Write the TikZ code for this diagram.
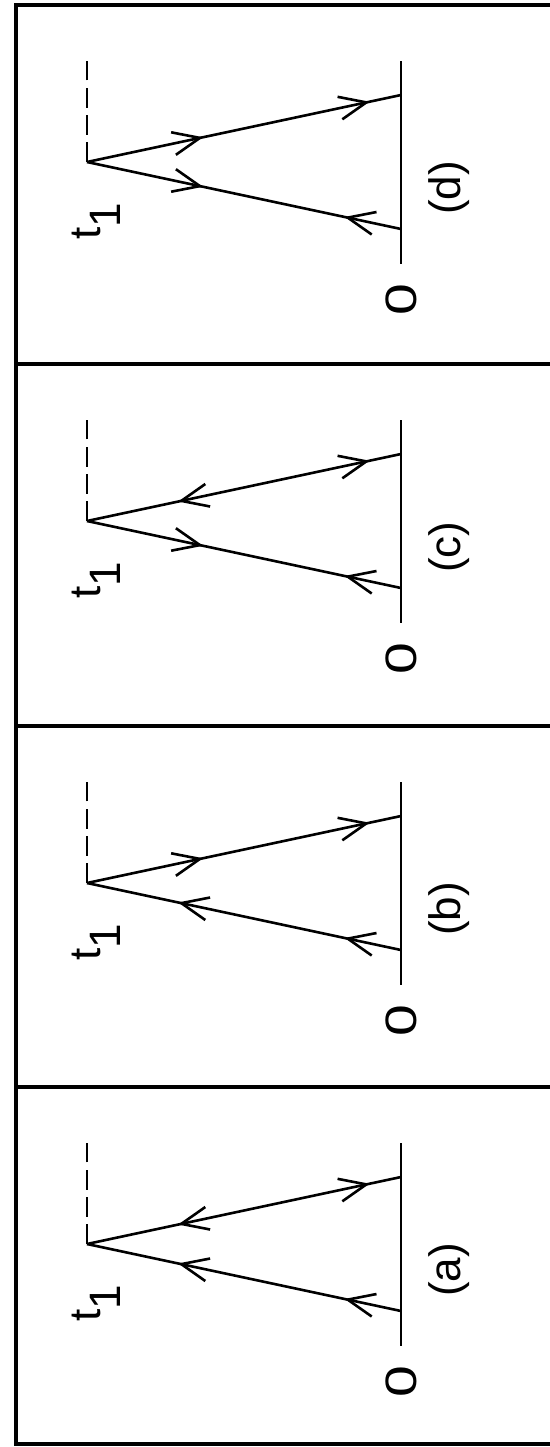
\documentclass[tikz,border=0pt]{standalone}
\usepackage{fontspec}
\setmainfont{Liberation Sans}
\usetikzlibrary{arrows.meta, decorations.markings}

\begin{document}
\begin{tikzpicture}[
  x=0.5pt, y=-0.5pt,
  >={Straight Barb[length=13.5pt, width=11.5pt]},
  frame/.style={line width=1.6pt},
  leg/.style={line width=1.3pt},
  tline/.style={line width=1.3pt},
  tail/.style={line width=1.3pt, dash pattern=on 10pt off 3.6pt},
  lab/.style={font=\fontsize{22}{26}\selectfont, inner sep=0pt, rotate=90},
  fw/.style={postaction={decorate, decoration={markings, mark=at position #1 with {\arrow{>}}}}},
  bk/.style={postaction={decorate, decoration={markings, mark=at position #1 with {\arrowreversed{>}}}}}
]
\useasboundingbox (0,0) rectangle (550,1447);

% outer frame and dividers
\draw[frame] (550,5) -- (16,5) -- (16,1444) -- (550,1444);
\draw[frame] (16,364) -- (550,364);
\draw[frame] (16,726) -- (550,726);
\draw[frame] (16,1087) -- (550,1087);

% (a)
\begin{scope}[shift={(0,1087)}]
  \coordinate (apexA) at (87,157);
  \coordinate (upA) at (401,90);
  \coordinate (lowA) at (401,224);
  \coordinate (dashA) at (87,56);
  \coordinate (btopA) at (401,56);
  \coordinate (bbotA) at (401,259);
  \node[lab, anchor=base west] (tA) at (100,235) {t\raisebox{-10pt}{1}};
  \node[lab] (zeroA) at (401,295) {\scalebox{1.3}[1]{0}};
  \node[lab] (capA) at (449,183) {(a)};
  \draw[tline] (btopA) -- (bbotA);
  \draw[tail] (apexA) -- (dashA);
  \draw[leg, bk=0.29, fw=0.90] (apexA) -- (upA);
  \draw[leg, bk=0.29, bk=0.82] (apexA) -- (lowA);
\end{scope}

% (b)
\begin{scope}[shift={(0,726)}]
  \coordinate (apexB) at (87,157);
  \coordinate (upB) at (401,90);
  \coordinate (lowB) at (401,224);
  \coordinate (dashB) at (87,56);
  \coordinate (btopB) at (401,56);
  \coordinate (bbotB) at (401,259);
  \node[lab, anchor=base west] (tB) at (100,235) {t\raisebox{-10pt}{1}};
  \node[lab] (zeroB) at (401,295) {\scalebox{1.3}[1]{0}};
  \node[lab] (capB) at (449,183) {(b)};
  \draw[tline] (btopB) -- (bbotB);
  \draw[tail] (apexB) -- (dashB);
  \draw[leg, fw=0.37, fw=0.90] (apexB) -- (upB);
  \draw[leg, bk=0.29, bk=0.82] (apexB) -- (lowB);
\end{scope}

% (c)
\begin{scope}[shift={(0,364)}]
  \coordinate (apexC) at (87,157);
  \coordinate (upC) at (401,90);
  \coordinate (lowC) at (401,224);
  \coordinate (dashC) at (87,56);
  \coordinate (btopC) at (401,56);
  \coordinate (bbotC) at (401,259);
  \node[lab, anchor=base west] (tC) at (100,235) {t\raisebox{-10pt}{1}};
  \node[lab] (zeroC) at (401,295) {\scalebox{1.3}[1]{0}};
  \node[lab] (capC) at (449,183) {(c)};
  \draw[tline] (btopC) -- (bbotC);
  \draw[tail] (apexC) -- (dashC);
  \draw[leg, bk=0.29, fw=0.90] (apexC) -- (upC);
  \draw[leg, fw=0.37, bk=0.82] (apexC) -- (lowC);
\end{scope}

% (d)
\begin{scope}[shift={(0,5)}]
  \coordinate (apexD) at (87,157);
  \coordinate (upD) at (401,90);
  \coordinate (lowD) at (401,224);
  \coordinate (dashD) at (87,56);
  \coordinate (btopD) at (401,56);
  \coordinate (bbotD) at (401,259);
  \node[lab, anchor=base west] (tD) at (100,235) {t\raisebox{-10pt}{1}};
  \node[lab] (zeroD) at (401,295) {\scalebox{1.3}[1]{0}};
  \node[lab] (capD) at (449,183) {(d)};
  \draw[tline] (btopD) -- (bbotD);
  \draw[tail] (apexD) -- (dashD);
  \draw[leg, fw=0.37, fw=0.90] (apexD) -- (upD);
  \draw[leg, fw=0.37, bk=0.82] (apexD) -- (lowD);
\end{scope}
\end{tikzpicture}
\end{document}
